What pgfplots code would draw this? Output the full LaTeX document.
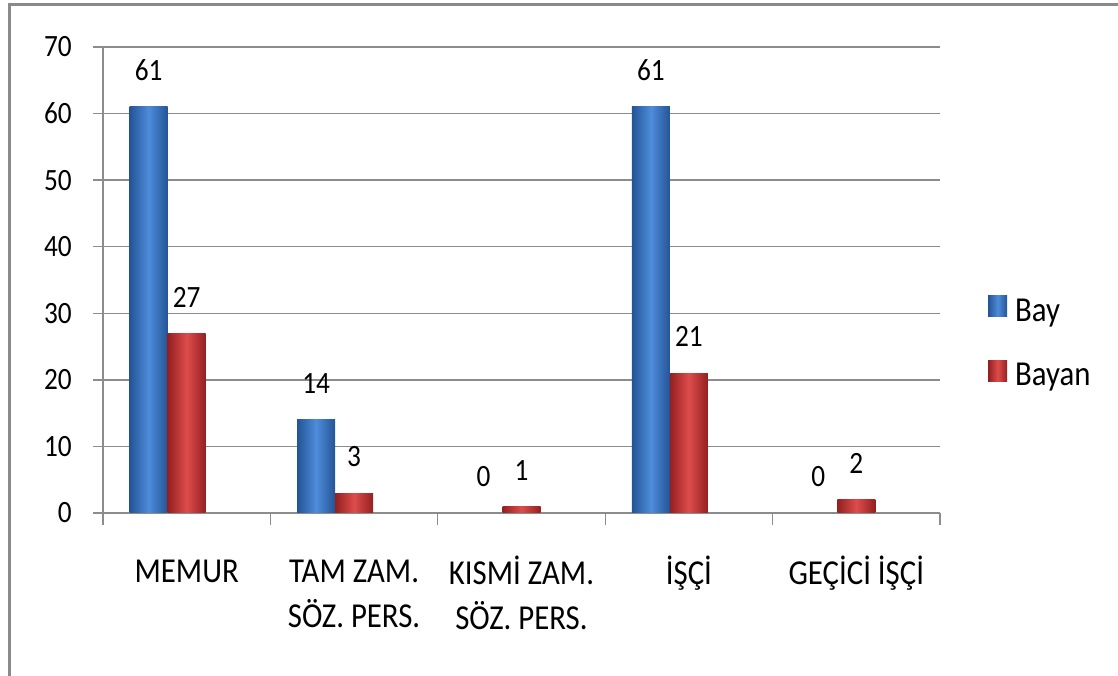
\documentclass[border=0pt]{standalone}
\usepackage{pgfplots}
\pgfplotsset{compat=1.18}
\usepackage{fontspec}
\setmainfont{Carlito}[FakeStretch=0.88]
\definecolor{gridgray}{RGB}{140,140,140}
\definecolor{framegray}{RGB}{138,138,138}
\definecolor{blueM}{RGB}{78,140,218}
\definecolor{blueD}{RGB}{36,84,150}
\definecolor{redM}{RGB}{222,76,76}
\definecolor{redD}{RGB}{148,32,32}
\begin{document}
\begin{tikzpicture}[x=1pt,y=1pt]
\useasboundingbox (0,0) rectangle (1118,676);
\draw[framegray, line width=3pt] (9.5,0) -- (9.5,671) -- (1118,671);
\begin{axis}[
  at={(103pt,163pt)}, anchor=south west,
  scale only axis, width=837pt, height=466pt,
  xmin=-0.5, xmax=4.5, ymin=0, ymax=70,
  ytick={0,10,...,70},
  xtick={0,1,2,3,4},
  xticklabels={\rule{0pt}{26pt}MEMUR,{\rule{0pt}{26pt}TAM ZAM.\\SÖZ. PERS.},{\rule{0pt}{26pt}KISMİ ZAM.\\SÖZ. PERS.},\rule{0pt}{26pt}İŞÇİ,\rule{0pt}{26pt}GEÇİCİ İŞÇİ},
  major x tick style={draw=none},
  extra x ticks={-0.5,0.5,1.5,2.5,3.5,4.5},
  extra x tick labels={},
  extra x tick style={major tick length=12pt, major x tick style={draw=gridgray, line width=1.3pt}},
  tick align=outside,
  major tick length=10pt,
  axis x line*=bottom, axis y line*=left,
  axis line style={gridgray, line width=1.3pt, -},
  tick style={gridgray, line width=1.3pt},
  ymajorgrids, grid style={gridgray, line width=1.3pt},
  /pgf/number format/assume math mode=true,
  yticklabel style={font=\fontsize{31}{31}\selectfont, inner sep=0pt, anchor=east, xshift=-21pt},
  xticklabel style={font=\fontsize{35}{45}\selectfont, inner sep=0pt, anchor=north, align=center, yshift=-33pt},
  nodes near coords,
  every node near coord/.append style={font=\fontsize{31}{31}\selectfont, anchor=south, inner sep=0pt, yshift=26pt, black},
  legend style={at={(1.0573,0.368)}, anchor=west, draw=none, fill=none, inner sep=0pt,
    font=\fontsize{35}{35}\selectfont, row sep=38pt,
    nodes={inner sep=0pt},
    /tikz/every odd column/.append style={column sep=8pt}},
  legend cell align=left,
  sq/.style={legend image code/.code={\draw[##1, draw=none] (0pt,-6pt) rectangle (19pt,15pt);}},
  bluebar/.style={ybar, bar width=0.227, bar shift=-0.227, draw=none, left color=blueD, right color=blueD, middle color=blueM, sq,
    every node near coord/.append style={xshift=-38pt}},
  redbar/.style={ybar, bar width=0.227, bar shift=0, draw=none, left color=redD, right color=redD, middle color=redM, sq},
]
% Bay
\addplot[bluebar] coordinates {(0,61)};
\addlegendentry{Bay}
\addplot[bluebar, forget plot] coordinates {(1,14)};
\addplot[ybar, bar width=0.227, bar shift=-0.227, draw=none, fill=blueM, forget plot,
  every node near coord/.append style={xshift=-38pt}] coordinates {(2,0)};
\addplot[bluebar, forget plot] coordinates {(3,61)};
\addplot[ybar, bar width=0.227, bar shift=-0.227, draw=none, fill=blueM, forget plot,
  every node near coord/.append style={xshift=-38pt}] coordinates {(4,0)};
% Bayan
\addplot[redbar] coordinates {(0,27)};
\addlegendentry{Bayan}
\addplot[redbar, forget plot] coordinates {(1,3)};
\addplot[redbar, forget plot] coordinates {(2,1)};
\addplot[redbar, forget plot] coordinates {(3,21)};
\addplot[redbar, forget plot] coordinates {(4,2)};
\end{axis}
\end{tikzpicture}
\end{document}
